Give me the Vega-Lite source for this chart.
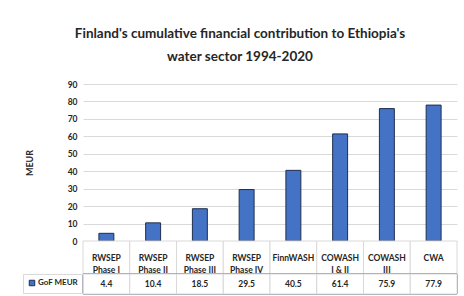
{
  "$schema": "https://vega.github.io/schema/vega-lite/v6.json",
  "padding": {"left": 22, "top": 26, "right": 5, "bottom": 0},
  "background": "#ffffff",
  "title": {
    "text": ["Finland's cumulative financial contribution to Ethiopia's", "water sector 1994-2020"],
    "font": "Lato",
    "fontSize": 13.5,
    "fontWeight": "bold",
    "color": "#262626",
    "lineHeight": 23,
    "anchor": "middle",
    "frame": "bounds",
    "offset": 17
  },
  "datasets": {
    "d": [
      {"cat": "RWSEP\nPhase I", "value": 4.4, "series": "GoF MEUR"},
      {"cat": "RWSEP\nPhase II", "value": 10.4, "series": "GoF MEUR"},
      {"cat": "RWSEP\nPhase III", "value": 18.5, "series": "GoF MEUR"},
      {"cat": "RWSEP\nPhase IV", "value": 29.5, "series": "GoF MEUR"},
      {"cat": "FinnWASH", "value": 40.5, "series": "GoF MEUR"},
      {"cat": "COWASH\nI & II", "value": 61.4, "series": "GoF MEUR"},
      {"cat": "COWASH\nIII", "value": 75.9, "series": "GoF MEUR"},
      {"cat": "CWA", "value": 77.9, "series": "GoF MEUR"}
    ]
  },
  "bounds": "flush",
  "spacing": 0,
  "resolve": {"scale": {"fill": "independent"}, "legend": {"fill": "independent"}},
  "vconcat": [
    {
      "width": 374,
      "height": 157,
      "data": {"name": "d"},
      "mark": {"type": "bar", "width": {"band": 0.32}, "fill": "#4472C4", "stroke": "#1F2F4F", "strokeWidth": 1},
      "encoding": {
        "x": {"field": "cat", "type": "nominal", "sort": null, "scale": {"paddingInner": 0, "paddingOuter": 0}, "axis": null},
        "y": {
          "field": "value", "type": "quantitative",
          "scale": {"domain": [0, 90], "nice": false},
          "axis": {
            "values": [0, 10, 20, 30, 40, 50, 60, 70, 80, 90],
            "title": "MEUR",
            "titleFont": "Lato", "titleFontSize": 9, "titleFontWeight": "bold", "titleColor": "#262626",
            "titlePadding": 33,
            "labelFont": "Lato", "labelFontSize": 8.5, "labelFontWeight": "bold", "labelColor": "#262626",
            "labelPadding": 6,
            "domain": false, "ticks": false,
            "grid": true, "gridColor": "#D9D9D9", "gridWidth": 1
          }
        }
      }
    },
    {
      "width": 374,
      "height": 33,
      "data": {"name": "d"},
      "encoding": {
        "x": {"field": "cat", "type": "nominal", "sort": null, "scale": {"paddingInner": 0, "paddingOuter": 0}, "axis": null}
      },
      "layer": [
        {"mark": {"type": "rect", "fill": "#ffffff", "stroke": "#D9D9D9", "strokeWidth": 1}},
        {
          "mark": {"type": "text", "lineBreak": "\n", "font": "Lato", "fontSize": 8.5, "fontWeight": "bold", "color": "#262626", "lineHeight": 12, "baseline": "middle"},
          "encoding": {"text": {"field": "cat"}}
        }
      ]
    },
    {
      "width": 374,
      "height": 20,
      "data": {"name": "d"},
      "encoding": {
        "x": {"field": "cat", "type": "nominal", "sort": null, "scale": {"paddingInner": 0, "paddingOuter": 0}, "axis": null}
      },
      "layer": [
        {
          "mark": {"type": "rect", "stroke": "#1F2F4F", "strokeWidth": 1},
          "encoding": {
            "fill": {
              "field": "series", "type": "nominal",
              "scale": {"range": ["#4472C4"]},
              "legend": {
                "orient": "left", "title": null, "offset": 0, "padding": 5,
                "strokeColor": "#D9D9D9",
                "symbolType": "square", "symbolSize": 30,
                "symbolStrokeColor": "#1F2F4F", "symbolStrokeWidth": 1,
                "labelFont": "Lato", "labelFontSize": 8, "labelFontWeight": "bold", "labelColor": "#262626",
                "labelOffset": 2
              }
            }
          }
        },
        {"mark": {"type": "rect", "fill": "#ffffff", "stroke": "#D9D9D9", "strokeWidth": 1}},
        {
          "mark": {"type": "text", "font": "Lato", "fontSize": 8.5, "fontWeight": "bold", "color": "#262626", "baseline": "middle"},
          "encoding": {"text": {"field": "value", "type": "quantitative", "format": ".1f"}}
        }
      ]
    }
  ],
  "config": {"view": {"stroke": null}}
}
